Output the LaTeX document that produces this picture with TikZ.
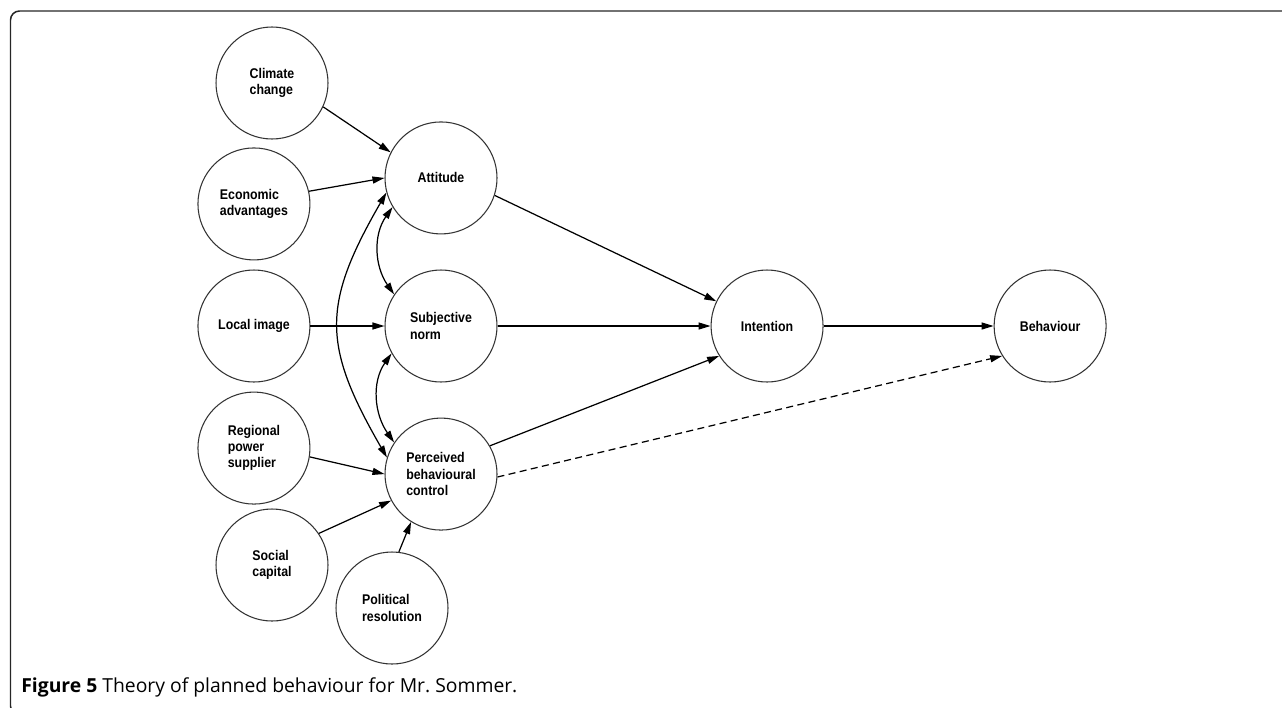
\documentclass[tikz,border=0pt]{standalone}
\usepackage{fontspec}
\setmainfont{Liberation Sans}
\newfontfamily\nodefont{Liberation Sans}[FakeStretch=0.88]
\newfontfamily\capfont{Open Sans}
\usepackage{tikz}
\usetikzlibrary{arrows.meta, positioning}

\begin{document}
\begin{tikzpicture}[
    construct/.style={draw, circle, line width=0.6pt, draw=black!80, minimum size=2.24cm, inner sep=0pt,
        align=left, font=\nodefont\bfseries\fontsize{8}{9.2}\selectfont},
    link/.style={line width=0.7pt, -{Triangle[length=0.24cm, width=0.14cm]}},
    corr/.style={line width=0.7pt, {Triangle[length=0.24cm, width=0.14cm]}-{Triangle[length=0.24cm, width=0.14cm]}},
    node distance=0.7cm
]
    \useasboundingbox (0,0) rectangle (25.64,-14.14);

    % Frame round the figure
    \draw[line width=0.85pt, black!85, rounded corners=0.18cm]
        (0.6,-14.3) -- (0.21,-14.3) -- (0.21,-0.22) -- (25.8,-0.22);

    % Middle column - relative positioning
    \node[construct] (subj) at (8.82,-6.52) {Subjective\\norm};
    \node[construct, above=of subj] (att) {Attitude};
    \node[construct, below=of subj] (pbc) {Perceived\\behavioural\\control};

    % Intention and behaviour
    \node[construct, right=4.26cm of subj] (int) {Intention};
    \node[construct, right=3.4cm of int] (beh) {Behaviour};

    % Background factors
    \node[construct, left=1.48cm of subj] (local) {Local image};
    \node[construct, above=0.18cm of local] (econ) {Economic\\advantages};
    \node[construct, below=0.18cm of local] (region) {Regional\\power\\supplier};
    \node[construct] (climate) at (5.44,-1.66) {Climate\\change};
    \node[construct] (social) at (5.44,-11.30) {Social\\capital};
    \node[construct] (polit) at (7.84,-12.16) {Political\\resolution};

    % Factors to constructs
    \draw[link] (climate.-25) -- (att.153);
    \draw[link] (econ.13) -- (att.180);
    \draw[link] (local) -- (subj);
    \draw[link] (region.-9) -- (pbc.180);
    \draw[link] (social.34) -- (pbc.208);
    \draw[link] (polit.83) -- (pbc.238);

    % Correlations between constructs
    \draw[corr] (att.211) to[out=235, in=125] (subj.146);
    \draw[corr] (subj.209) to[out=235, in=125] (pbc.146);
    \draw[corr] (att.195) to[out=240, in=120, looseness=1.25] (pbc.163);

    % Constructs to intention and behaviour
    \draw[link] (att.-18) -- (int.154);
    \draw[link] (subj) -- (int);
    \draw[link] (pbc.30) -- (int.212);
    \draw[link] (int) -- (beh);
    \draw[link, dash pattern=on 4pt off 2.5pt] (pbc.-3) -- (beh.212);

    % Caption
    \node[anchor=base west, inner sep=0pt, font=\capfont\fontsize{11}{13}\selectfont] (caption) at (0.42,-13.84)
        {\textbf{Figure 5} Theory of planned behaviour for Mr.\ Sommer.};
\end{tikzpicture}
\end{document}
